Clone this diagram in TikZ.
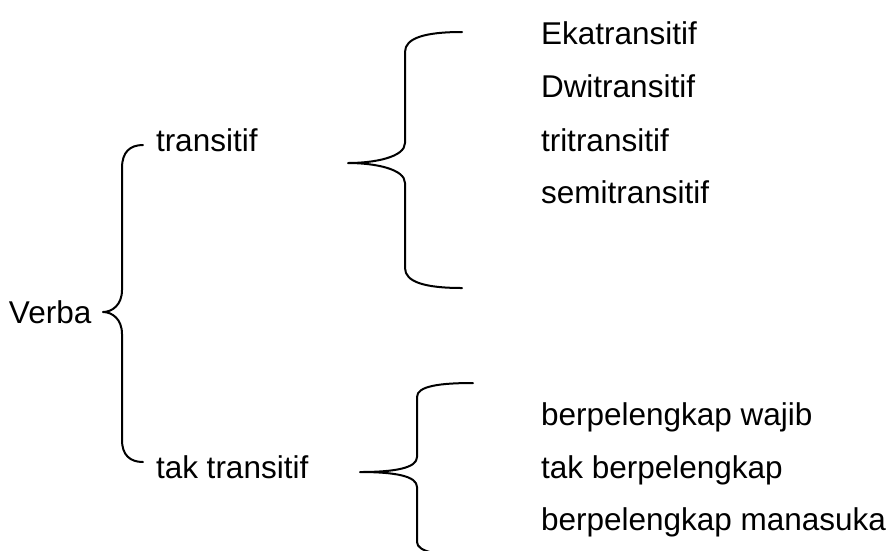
\documentclass[tikz,border=0pt]{standalone}
\usepackage{fontspec}
\setmainfont{Liberation Sans}
\begin{document}
\begin{tikzpicture}[x=1pt,y=-1pt,
  lbl/.style={anchor=base west,inner sep=0pt,outer sep=0pt,font=\fontsize{31.5}{38}\selectfont},
  brace/.style={line width=2pt,line cap=round,line join=round}]
\useasboundingbox (0,0) rectangle (893,550);
\clip (0,0) rectangle (893,550);
% texts
\node[lbl] (verba) at (9,323) {Verba};
\node[lbl] (tr) at (156,151) {transitif};
\node[lbl] (taktr) at (156,478) {tak transitif};
\node[lbl] (eka) at (541,44) {Ekatransitif};
\node[lbl] (dwi) at (541,97) {Dwitransitif};
\node[lbl] (tri) at (541,151) {tritransitif};
\node[lbl] (semi) at (541,203) {semitransitif};
\node[lbl] (wajib) at (541,425) {berpelengkap wajib};
\node[lbl] (takber) at (541,478) {tak berpelengkap};
\node[lbl] (mana) at (541,530) {berpelengkap manasuka};
% brace 1
\draw[brace] (143,145) .. controls (130,145) and (122,152) .. (122,168) -- (122,290)
  .. controls (122,305) and (112,312) .. (103,312)
  .. controls (112,312) and (122,319) .. (122,334) -- (122,440)
  .. controls (122,455) and (130,462) .. (143,462);
% brace 2
\draw[brace] (462,32) .. controls (425,32) and (405,38) .. (405,52) -- (405,143)
  .. controls (405,157) and (375,163) .. (348,163)
  .. controls (375,163) and (405,169) .. (405,183) -- (405,268)
  .. controls (405,282) and (425,288) .. (462,288);
% brace 3
\draw[brace] (473,383) .. controls (440,383) and (417,386) .. (417,397) -- (417,457)
  .. controls (417,468) and (395,472) .. (360,472)
  .. controls (395,472) and (417,476) .. (417,487) -- (417,542)
  .. controls (417,552) and (440,556) .. (473,556);
\end{tikzpicture}
\end{document}
